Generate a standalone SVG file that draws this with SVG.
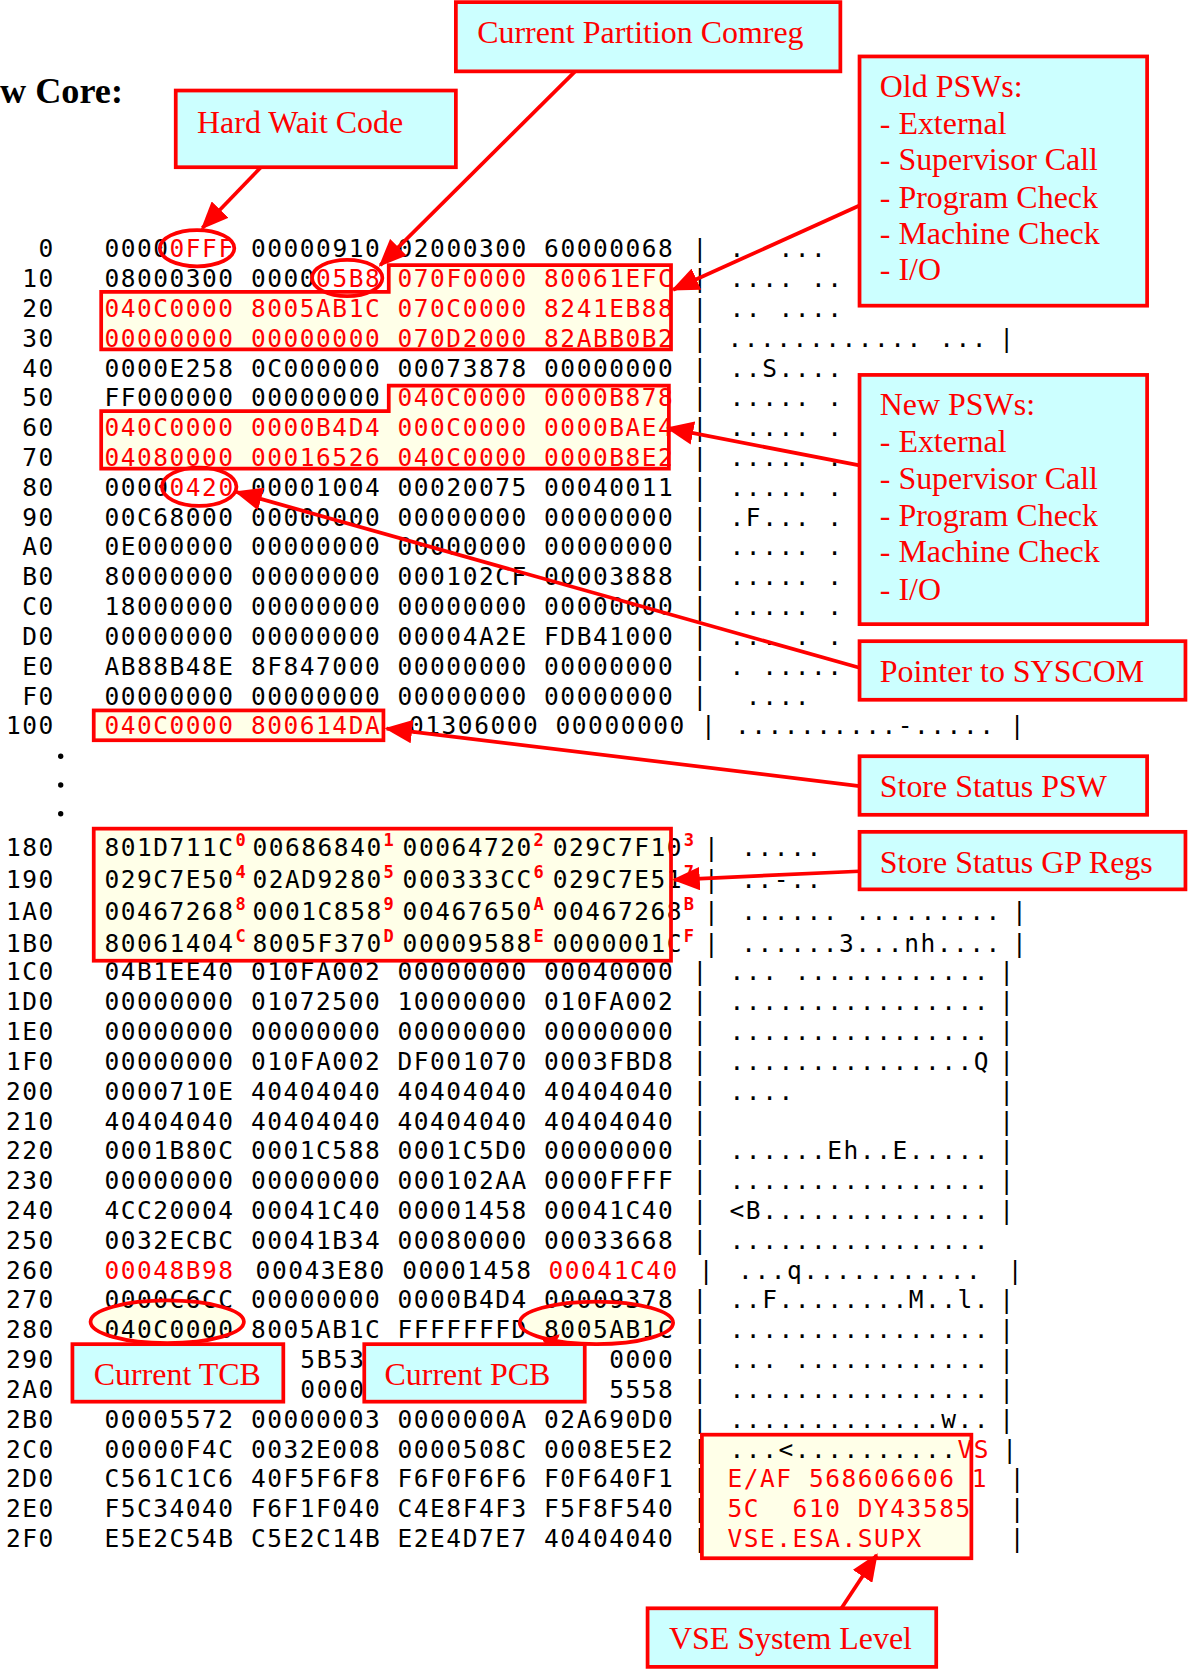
<svg xmlns="http://www.w3.org/2000/svg" width="1193" height="1670" viewBox="0 0 1193 1670" xml:space="preserve">
<style>
.a{font-family:"DejaVu Sans Mono",monospace;font-size:23px;letter-spacing:1.45px;fill:#000;white-space:pre}
.ad{font-family:"DejaVu Sans Mono",monospace;font-size:23px;letter-spacing:1.45px;fill:#000;text-anchor:end}
.bar{font-family:"DejaVu Sans Mono",monospace;font-size:23px;fill:#000;text-anchor:middle}
.r{fill:#FF0000}
.sp{font-family:"DejaVu Sans Mono",monospace;font-size:16px;font-weight:bold;fill:#FF0000}
.lbl{font-family:"Liberation Serif","Times New Roman",serif;font-size:30px;fill:#FF0000}
.ttl{font-family:"Liberation Serif","Times New Roman",serif;font-size:34px;font-weight:bold;fill:#000}
.box{fill:#CCFFFF;stroke:#FF0000;stroke-width:3.5}
.hl{fill:#FFFFE8;stroke:none}
.hlo{fill:none;stroke:#FF0000;stroke-width:3.5}
.con{stroke:#FF0000;stroke-width:3.5;fill:none;marker-end:url(#ah)}
.con2{stroke:#FF0000;stroke-width:3;fill:none;marker-end:url(#ahs)}
</style>
<defs>
<marker id="ah" viewBox="0 0 26 22" refX="24" refY="11" markerWidth="26" markerHeight="22" orient="auto" markerUnits="userSpaceOnUse"><path d="M0,0 L26,11 L0,22 Z" fill="#FF0000"/></marker>
<marker id="ahs" viewBox="0 0 16 14" refX="14" refY="7" markerWidth="16" markerHeight="14" orient="auto" markerUnits="userSpaceOnUse"><path d="M0,0 L16,7 L0,14 Z" fill="#FF0000"/></marker>
</defs>
<rect width="1193" height="1670" fill="#FFFFFF"/>
<g transform="scale(1.0651)">
<text class="ttl" x="0" y="97">w Core:</text>

<g id="highlight-fills">
<path class="hl" d="M365,249 H630 V328 H95 V274 H365 Z"/>
<path class="hl" d="M365,362 H628 V440 H95 V386 H365 Z"/>
<rect class="hl" x="88" y="667" width="272" height="28"/>
<rect class="hl" x="88" y="778" width="542" height="124"/>
<rect class="hl" x="659" y="1347" width="253" height="116"/>
<ellipse class="hl" cx="157" cy="1241" rx="72" ry="20"/>
<ellipse class="hl" cx="560" cy="1242" rx="72" ry="20"/>
</g>

<g id="dump">
<text class="ad" x="51.5" y="241.5">0</text>
<text class="ad" x="51.5" y="269.5">10</text>
<text class="ad" x="51.5" y="297.5">20</text>
<text class="ad" x="51.5" y="325.5">30</text>
<text class="ad" x="51.5" y="353.5">40</text>
<text class="ad" x="51.5" y="381.5">50</text>
<text class="ad" x="51.5" y="409.5">60</text>
<text class="ad" x="51.5" y="437.5">70</text>
<text class="ad" x="51.5" y="465.5">80</text>
<text class="ad" x="51.5" y="493.5">90</text>
<text class="ad" x="51.5" y="521.5">A0</text>
<text class="ad" x="51.5" y="549.5">B0</text>
<text class="ad" x="51.5" y="577.5">C0</text>
<text class="ad" x="51.5" y="605.5">D0</text>
<text class="ad" x="51.5" y="633.5">E0</text>
<text class="ad" x="51.5" y="661.5">F0</text>
<text class="ad" x="51.5" y="689.5">100</text>
<text class="ad" x="51.5" y="803.5">180</text>
<text class="ad" x="51.5" y="833.5">190</text>
<text class="ad" x="51.5" y="863.5">1A0</text>
<text class="ad" x="51.5" y="893.5">1B0</text>
<text class="ad" x="51.5" y="920.5">1C0</text>
<text class="ad" x="51.5" y="948.5">1D0</text>
<text class="ad" x="51.5" y="976.5">1E0</text>
<text class="ad" x="51.5" y="1004.5">1F0</text>
<text class="ad" x="51.5" y="1032.5">200</text>
<text class="ad" x="51.5" y="1060.5">210</text>
<text class="ad" x="51.5" y="1088.5">220</text>
<text class="ad" x="51.5" y="1116.5">230</text>
<text class="ad" x="51.5" y="1144.5">240</text>
<text class="ad" x="51.5" y="1172.5">250</text>
<text class="ad" x="51.5" y="1200.5">260</text>
<text class="ad" x="51.5" y="1228.5">270</text>
<text class="ad" x="51.5" y="1256.5">280</text>
<text class="ad" x="51.5" y="1284.5">290</text>
<text class="ad" x="51.5" y="1312.5">2A0</text>
<text class="ad" x="51.5" y="1340.5">2B0</text>
<text class="ad" x="51.5" y="1368.5">2C0</text>
<text class="ad" x="51.5" y="1396.5">2D0</text>
<text class="ad" x="51.5" y="1424.5">2E0</text>
<text class="ad" x="51.5" y="1452.5">2F0</text>

<text class="a" x="98" y="241.5">0000<tspan class="r">0FFF</tspan> 00000910 02000300 60000068</text>
<text class="a" x="98" y="269.5">08000300 0000<tspan class="r">05B8 070F0000 80061EFC</tspan></text>
<text class="a r" x="98" y="297.5">040C0000 8005AB1C 070C0000 8241EB88</text>
<text class="a r" x="98" y="325.5">00000000 00000000 070D2000 82ABB0B2</text>
<text class="a" x="98" y="353.5">0000E258 0C000000 00073878 00000000</text>
<text class="a" x="98" y="381.5">FF000000 00000000 <tspan class="r">040C0000 0000B878</tspan></text>
<text class="a r" x="98" y="409.5">040C0000 0000B4D4 000C0000 0000BAE4</text>
<text class="a r" x="98" y="437.5">04080000 00016526 040C0000 0000B8E2</text>
<text class="a" x="98" y="465.5">0000<tspan class="r">0420</tspan> 00001004 00020075 00040011</text>
<text class="a" x="98" y="493.5">00C68000 00000000 00000000 00000000</text>
<text class="a" x="98" y="521.5">0E000000 00000000 00000000 00000000</text>
<text class="a" x="98" y="549.5">80000000 00000000 000102CF 00003888</text>
<text class="a" x="98" y="577.5">18000000 00000000 00000000 00000000</text>
<text class="a" x="98" y="605.5">00000000 00000000 00004A2E FDB41000</text>
<text class="a" x="98" y="633.5">AB88B48E 8F847000 00000000 00000000</text>
<text class="a" x="98" y="661.5">00000000 00000000 00000000 00000000</text>
<text class="a r" x="98" y="689.5">040C0000 800614DA</text>
<text class="a" x="384" y="689.5">01306000 00000000</text>

<text class="a" x="98" y="803.5">801D711C</text><text class="sp" x="221" y="794">0</text>
<text class="a" x="237" y="803.5">00686840</text><text class="sp" x="360" y="794">1</text>
<text class="a" x="378" y="803.5">00064720</text><text class="sp" x="501" y="794">2</text>
<text class="a" x="519" y="803.5">029C7F10</text><text class="sp" x="642" y="794">3</text>
<text class="a" x="98" y="833.5">029C7E50</text><text class="sp" x="221" y="824">4</text>
<text class="a" x="237" y="833.5">02AD9280</text><text class="sp" x="360" y="824">5</text>
<text class="a" x="378" y="833.5">000333CC</text><text class="sp" x="501" y="824">6</text>
<text class="a" x="519" y="833.5">029C7E51</text><text class="sp" x="642" y="824">7</text>
<text class="a" x="98" y="863.5">00467268</text><text class="sp" x="221" y="854">8</text>
<text class="a" x="237" y="863.5">0001C858</text><text class="sp" x="360" y="854">9</text>
<text class="a" x="378" y="863.5">00467650</text><text class="sp" x="501" y="854">A</text>
<text class="a" x="519" y="863.5">00467268</text><text class="sp" x="642" y="854">B</text>
<text class="a" x="98" y="893.5">80061404</text><text class="sp" x="221" y="884">C</text>
<text class="a" x="237" y="893.5">8005F370</text><text class="sp" x="360" y="884">D</text>
<text class="a" x="378" y="893.5">00009588</text><text class="sp" x="501" y="884">E</text>
<text class="a" x="519" y="893.5">0000001C</text><text class="sp" x="642" y="884">F</text>

<text class="a" x="98" y="920.5">04B1EE40 010FA002 00000000 00040000</text>
<text class="a" x="98" y="948.5">00000000 01072500 10000000 010FA002</text>
<text class="a" x="98" y="976.5">00000000 00000000 00000000 00000000</text>
<text class="a" x="98" y="1004.5">00000000 010FA002 DF001070 0003FBD8</text>
<text class="a" x="98" y="1032.5">0000710E 40404040 40404040 40404040</text>
<text class="a" x="98" y="1060.5">40404040 40404040 40404040 40404040</text>
<text class="a" x="98" y="1088.5">0001B80C 0001C588 0001C5D0 00000000</text>
<text class="a" x="98" y="1116.5">00000000 00000000 000102AA 0000FFFF</text>
<text class="a" x="98" y="1144.5">4CC20004 00041C40 00001458 00041C40</text>
<text class="a" x="98" y="1172.5">0032ECBC 00041B34 00080000 00033668</text>
<text class="a r" x="98" y="1200.5">00048B98</text>
<text class="a" x="240" y="1200.5">00043E80 00001458</text>
<text class="a r" x="515" y="1200.5">00041C40</text>
<text class="a" x="98" y="1228.5">0000C6CC 00000000 0000B4D4 00009378</text>
<text class="a" x="98" y="1256.5">040C0000 8005AB1C FFFFFFFD 8005AB1C</text>
<text class="a" x="282" y="1284.5">5B53</text>
<text class="a" x="572" y="1284.5">0000</text>
<text class="a" x="282" y="1312.5">0000</text>
<text class="a" x="572" y="1312.5">5558</text>
<text class="a" x="98" y="1340.5">00005572 00000003 0000000A 02A690D0</text>
<text class="a" x="98" y="1368.5">00000F4C 0032E008 0000508C 0008E5E2</text>
<text class="a" x="98" y="1396.5">C561C1C6 40F5F6F8 F6F0F6F6 F0F640F1</text>
<text class="a" x="98" y="1424.5">F5C34040 F6F1F040 C4E8F4F3 F5F8F540</text>
<text class="a" x="98" y="1452.5">E5E2C54B C5E2C14B E2E4D7E7 40404040</text>

<circle cx="57" cy="710" r="2.5" fill="#000"/>
<circle cx="57" cy="737" r="2.5" fill="#000"/>
<circle cx="57" cy="764" r="2.5" fill="#000"/>
</g>

<g id="ascii">
<text class="bar" x="657" y="241.5">|</text><text class="a" x="685" y="241.5">.  ...</text>
<text class="bar" x="657" y="269.5">|</text><text class="a" x="685" y="269.5">.... ..</text>
<text class="bar" x="657" y="297.5">|</text><text class="a" x="685" y="297.5">.. ....</text>
<text class="bar" x="657" y="325.5">|</text><text class="a" x="683" y="325.5">............ ...</text><text class="bar" x="945" y="325.5">|</text>
<text class="bar" x="657" y="353.5">|</text><text class="a" x="685" y="353.5">..S....</text>
<text class="bar" x="657" y="381.5">|</text><text class="a" x="685" y="381.5">..... .</text>
<text class="bar" x="657" y="409.5">|</text><text class="a" x="685" y="409.5">..... .</text>
<text class="bar" x="657" y="437.5">|</text><text class="a" x="685" y="437.5">..... .</text>
<text class="bar" x="657" y="465.5">|</text><text class="a" x="685" y="465.5">..... .</text>
<text class="bar" x="657" y="493.5">|</text><text class="a" x="685" y="493.5">.F... .</text>
<text class="bar" x="657" y="521.5">|</text><text class="a" x="685" y="521.5">..... .</text>
<text class="bar" x="657" y="549.5">|</text><text class="a" x="685" y="549.5">..... .</text>
<text class="bar" x="657" y="577.5">|</text><text class="a" x="685" y="577.5">..... .</text>
<text class="bar" x="657" y="605.5">|</text><text class="a" x="685" y="605.5">... . .</text>
<text class="bar" x="657" y="633.5">|</text><text class="a" x="685" y="633.5">. .....</text>
<text class="bar" x="657" y="661.5">|</text><text class="a" x="685" y="661.5"> ....</text>
<text class="bar" x="665" y="689.5">|</text><text class="a" x="690" y="689.5">..........-.....</text><text class="bar" x="955" y="689.5">|</text>
<text class="bar" x="668" y="803.5">|</text><text class="a" x="696" y="803.5">.....</text>
<text class="bar" x="668" y="833.5">|</text><text class="a" x="696" y="833.5">..-..</text>
<text class="bar" x="668" y="863.5">|</text><text class="a" x="696" y="863.5">...... .........</text><text class="bar" x="957" y="863.5">|</text>
<text class="bar" x="668" y="893.5">|</text><text class="a" x="696" y="893.5">......3...nh....</text><text class="bar" x="957" y="893.5">|</text>
<text class="bar" x="657" y="920.5">|</text><text class="a" x="685" y="920.5">... ............</text><text class="bar" x="945" y="920.5">|</text>
<text class="bar" x="657" y="948.5">|</text><text class="a" x="685" y="948.5">................</text><text class="bar" x="945" y="948.5">|</text>
<text class="bar" x="657" y="976.5">|</text><text class="a" x="685" y="976.5">................</text><text class="bar" x="945" y="976.5">|</text>
<text class="bar" x="657" y="1004.5">|</text><text class="a" x="685" y="1004.5">...............Q</text><text class="bar" x="945" y="1004.5">|</text>
<text class="bar" x="657" y="1032.5">|</text><text class="a" x="685" y="1032.5">....</text><text class="bar" x="945" y="1032.5">|</text>
<text class="bar" x="657" y="1060.5">|</text><text class="bar" x="945" y="1060.5">|</text>
<text class="bar" x="657" y="1088.5">|</text><text class="a" x="685" y="1088.5">......Eh..E.....</text><text class="bar" x="945" y="1088.5">|</text>
<text class="bar" x="657" y="1116.5">|</text><text class="a" x="685" y="1116.5">................</text><text class="bar" x="945" y="1116.5">|</text>
<text class="bar" x="657" y="1144.5">|</text><text class="a" x="685" y="1144.5">&lt;B..............</text><text class="bar" x="945" y="1144.5">|</text>
<text class="bar" x="657" y="1172.5">|</text><text class="a" x="685" y="1172.5">................</text>
<text class="bar" x="663" y="1200.5">|</text><text class="a" x="693" y="1200.5">...q...........</text><text class="bar" x="953" y="1200.5">|</text>
<text class="bar" x="657" y="1228.5">|</text><text class="a" x="685" y="1228.5">..F........M..l.</text><text class="bar" x="945" y="1228.5">|</text>
<text class="bar" x="657" y="1256.5">|</text><text class="a" x="685" y="1256.5">................</text><text class="bar" x="945" y="1256.5">|</text>
<text class="bar" x="657" y="1284.5">|</text><text class="a" x="685" y="1284.5">... ............</text><text class="bar" x="945" y="1284.5">|</text>
<text class="bar" x="657" y="1312.5">|</text><text class="a" x="685" y="1312.5">................</text><text class="bar" x="945" y="1312.5">|</text>
<text class="bar" x="657" y="1340.5">|</text><text class="a" x="685" y="1340.5">.............w..</text><text class="bar" x="945" y="1340.5">|</text>
<text class="bar" x="657" y="1368.5">|</text><text class="a" x="685" y="1368.5">...&lt;..........<tspan class="r">VS</tspan></text><text class="bar" x="948" y="1368.5">|</text>
<text class="bar" x="657" y="1396.5">|</text><text class="a r" x="683" y="1396.5">E/AF 568606606 1</text><text class="bar" x="955" y="1396.5">|</text>
<text class="bar" x="657" y="1424.5">|</text><text class="a r" x="683" y="1424.5">5C  610 DY43585</text><text class="bar" x="955" y="1424.5">|</text>
<text class="bar" x="657" y="1452.5">|</text><text class="a r" x="683" y="1452.5">VSE.ESA.SUPX</text><text class="bar" x="955" y="1452.5">|</text>
</g>

<g id="highlights">
<path class="hlo" d="M365,249 H630 V328 H95 V274 H365 Z"/>
<path class="hlo" d="M365,362 H628 V440 H95 V386 H365 Z"/>
<rect class="hlo" x="88" y="667" width="272" height="28"/>
<rect class="hlo" x="88" y="778" width="542" height="124"/>
<rect class="hlo" x="659" y="1347" width="253" height="116"/>
<ellipse class="hlo" cx="185" cy="233" rx="35" ry="17"/>
<ellipse class="hlo" cx="326" cy="261" rx="33" ry="17"/>
<ellipse class="hlo" cx="187" cy="457" rx="35" ry="18"/>
<ellipse class="hlo" cx="157" cy="1241" rx="72" ry="20"/>
<ellipse class="hlo" cx="560" cy="1242" rx="72" ry="20"/>
</g>

<g id="connectors">
<line class="con" x1="245" y1="157" x2="190" y2="214"/>
<line class="con" x1="540" y1="67" x2="357" y2="249"/>
<line class="con" x1="807" y1="193" x2="632" y2="272"/>
<line class="con" x1="807" y1="437" x2="627" y2="402"/>
<line class="con" x1="807" y1="627" x2="222" y2="462"/>
<line class="con" x1="807" y1="738" x2="363" y2="684"/>
<line class="con" x1="807" y1="818" x2="633" y2="826"/>
<line class="con2" x1="508" y1="1268" x2="524" y2="1254"/>
<line class="con" x1="790" y1="1510" x2="823" y2="1460"/>
</g>

<g id="node-comreg"><rect class="box" x="428" y="2" width="361" height="65"/><text class="lbl" x="448" y="40">Current Partition Comreg</text></g>
<g id="node-hardwait"><rect class="box" x="165" y="85" width="263" height="72"/><text class="lbl" x="185" y="125">Hard Wait Code</text></g>
<g id="node-oldpsw"><rect class="box" x="807" y="53" width="270" height="234"/>
<text class="lbl" x="826" y="91">Old PSWs:</text>
<text class="lbl" x="826" y="126">- External</text>
<text class="lbl" x="826" y="160">- Supervisor Call</text>
<text class="lbl" x="826" y="195">- Program Check</text>
<text class="lbl" x="826" y="229">- Machine Check</text>
<text class="lbl" x="826" y="263">- I/O</text></g>
<g id="node-newpsw"><rect class="box" x="807" y="352" width="270" height="234"/>
<text class="lbl" x="826" y="390">New PSWs:</text>
<text class="lbl" x="826" y="424">- External</text>
<text class="lbl" x="826" y="459">- Supervisor Call</text>
<text class="lbl" x="826" y="494">- Program Check</text>
<text class="lbl" x="826" y="528">- Machine Check</text>
<text class="lbl" x="826" y="563">- I/O</text></g>
<g id="node-syscom"><rect class="box" x="807" y="602" width="306" height="55"/><text class="lbl" x="826" y="640">Pointer to SYSCOM</text></g>
<g id="node-sspsw"><rect class="box" x="807" y="710" width="270" height="55"/><text class="lbl" x="826" y="748">Store Status PSW</text></g>
<g id="node-ssgp"><rect class="box" x="807" y="781" width="306" height="54"/><text class="lbl" x="826" y="820">Store Status GP Regs</text></g>
<g id="node-tcb"><rect class="box" x="68" y="1262" width="198" height="54"/><text class="lbl" x="88" y="1300">Current TCB</text></g>
<g id="node-pcb"><rect class="box" x="342" y="1262" width="207" height="54"/><text class="lbl" x="361" y="1300">Current PCB</text></g>
<g id="node-vse"><rect class="box" x="608" y="1510" width="271" height="55"/><text class="lbl" x="628" y="1548">VSE System Level</text></g>
</g>
</svg>
